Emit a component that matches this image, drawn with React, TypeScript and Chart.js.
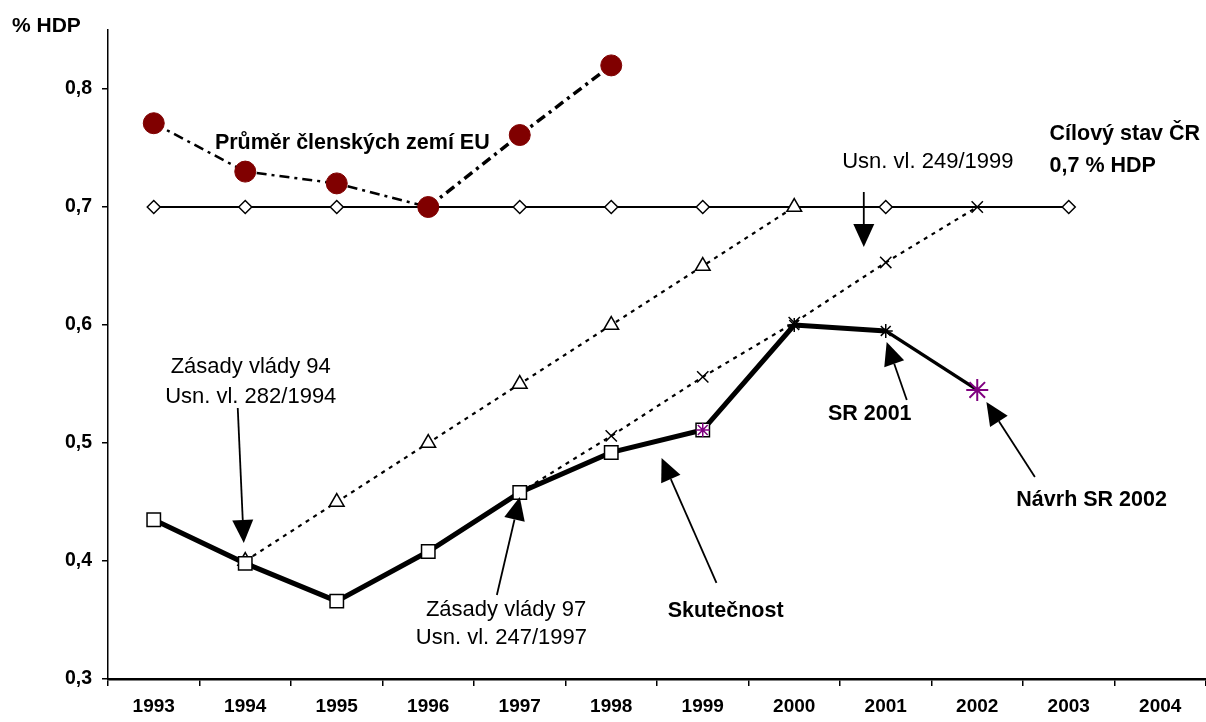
import React, { useEffect, useRef } from "react";
import { Chart, registerables } from "chart.js";

Chart.register(...registerables);

// ---- Data ----
const years = ["1993", "1994", "1995", "1996", "1997", "1998", "1999", "2000", "2001", "2002", "2003", "2004"];
const euAverage = [0.771, 0.73, 0.72, 0.7, 0.761, 0.82, null, null, null, null, null, null];
const targetCR = [0.7, 0.7, 0.7, 0.7, 0.7, 0.7, 0.7, 0.7, 0.7, 0.7, 0.7, null];
const plan94 = [null, 0.4, 0.45, 0.5, 0.55, 0.6, 0.65, 0.7, null, null, null, null];
const plan97 = [null, null, null, null, 0.458, 0.506, 0.556, 0.602, 0.653, 0.7, null, null];
const actual = [0.435, 0.398, 0.366, 0.408, 0.458, 0.492, 0.511, 0.6, null, null, null, null];
const budget2001 = [null, null, null, null, null, null, null, 0.6, 0.595, null, null, null];
const budget2002 = [null, null, null, null, null, null, null, null, 0.595, 0.545, null, null];
const purpleMark = [null, null, null, null, null, null, 0.511, null, null, null, null, null];

const yMin = 0.3;
const yMax = 0.85;
const yStep = 0.1;

// ---- Annotations (anchored in data units: category index, value) ----
const noteTexts = [
  { text: "Průměr členských zemí EU", at: [2.17, 0.754], bold: true, align: "center" },
  { text: "Cílový stav ČR", at: [9.79, 0.762], bold: true, align: "left" },
  { text: "0,7 % HDP", at: [9.79, 0.735], bold: true, align: "left" },
  { text: "Usn. vl. 249/1999", at: [8.46, 0.738], bold: false, align: "center" },
  { text: "Zásady vlády 94", at: [1.06, 0.5644], bold: false, align: "center" },
  { text: "Usn. vl. 282/1994", at: [1.06, 0.539], bold: false, align: "center" },
  { text: "Zásady vlády 97", at: [3.85, 0.3585], bold: false, align: "center" },
  { text: "Usn. vl. 247/1997", at: [3.8, 0.3347], bold: false, align: "center" },
  { text: "Skutečnost", at: [6.25, 0.3576], bold: true, align: "center" },
  { text: "SR 2001", at: [7.825, 0.5246], bold: true, align: "center" },
  { text: "Návrh SR 2002", at: [10.25, 0.4517], bold: true, align: "center" },
];

const noteArrows = [
  { from: [7.76, 0.7127], to: [7.76, 0.666] },
  { from: [0.918, 0.5297], to: [0.984, 0.4153] },
  { from: [3.75, 0.3712], to: [4.0, 0.4542] },
  { from: [6.15, 0.3814], to: [5.55, 0.4873] },
  { from: [8.23, 0.5364], to: [8.01, 0.5856] },
  { from: [9.63, 0.4712], to: [9.1, 0.5347] },
];

const axisTitle = "% HDP";

const FONT = "'Liberation Sans', Arial, sans-serif";

const annotationPlugin = {
  id: "annotations",
  afterDatasetsDraw(chart: any) {
    const { ctx, scales, chartArea } = chart;
    const xs = scales.x;
    const ys = scales.y;
    const px = (p: number[]) => [xs.getPixelForValue(p[0]), ys.getPixelForValue(p[1])];
    ctx.save();
    ctx.fillStyle = "#000";
    ctx.textBaseline = "middle";
    for (const n of noteTexts) {
      const [x, y] = px(n.at);
      ctx.font = (n.bold ? "bold 21.5px " : "22px ") + FONT;
      ctx.textAlign = n.align as CanvasTextAlign;
      ctx.fillText(n.text, x, y);
    }
    ctx.strokeStyle = "#000";
    ctx.lineWidth = 1.8;
    for (const a of noteArrows) {
      const [x1, y1] = px(a.from);
      const [x2, y2] = px(a.to);
      const ang = Math.atan2(y2 - y1, x2 - x1);
      const headLen = 23;
      const headHalf = 10.5;
      const bx = x2 - headLen * Math.cos(ang);
      const by = y2 - headLen * Math.sin(ang);
      ctx.beginPath();
      ctx.moveTo(x1, y1);
      ctx.lineTo(bx, by);
      ctx.stroke();
      ctx.beginPath();
      ctx.moveTo(x2, y2);
      ctx.lineTo(bx + headHalf * Math.sin(ang), by - headHalf * Math.cos(ang));
      ctx.lineTo(bx - headHalf * Math.sin(ang), by + headHalf * Math.cos(ang));
      ctx.closePath();
      ctx.fill();
    }
    // axis title
    ctx.beginPath();
    ctx.rect(0, 0, chartArea.left - 28, chartArea.top + 20);
    ctx.clip();
    ctx.font = "bold 21px " + FONT;
    ctx.textAlign = "left";
    ctx.fillText(axisTitle, chartArea.left - 96, chartArea.top - 4);
    ctx.restore();
  },
};

export default function App() {
  const ref = useRef<HTMLCanvasElement>(null);

  useEffect(() => {
    const canvas = ref.current;
    if (!canvas) return;
    const chart = new Chart(canvas, {
      type: "line",
      data: {
        labels: years,
        datasets: [
          {
            label: "purple",
            data: purpleMark,
            showLine: false,
            pointStyle: "star",
            pointRadius: 7,
            borderColor: "#800080",
            backgroundColor: "#800080",
            pointBorderWidth: 1.5,
            order: 0,
          },
          {
            label: "Průměr EU",
            data: euAverage,
            borderColor: "#000",
            borderWidth: 2.5,
            borderDash: [10, 5, 3, 5],
            segment: { borderWidth: (c: any) => (c.p0DataIndex >= 3 ? 3.5 : 2.5) },
            pointStyle: "circle",
            pointRadius: 10.5,
            pointBackgroundColor: "#800000",
            pointBorderColor: "#800000",
            pointBorderWidth: 1,
            order: 1,
          },
          {
            label: "Skutečnost",
            data: actual,
            borderColor: "#000",
            borderWidth: 5,
            pointStyle: "rect",
            pointRadius: [9.5, 9.5, 9.5, 9.5, 9.5, 9.5, 9.5, 0, 0, 0, 0, 0],
            pointBackgroundColor: "#fff",
            pointBorderColor: "#000",
            pointBorderWidth: 1.5,
            order: 3,
          },
          {
            label: "SR 2001",
            data: budget2001,
            borderColor: "#000",
            borderWidth: 5,
            pointStyle: "star",
            pointRadius: 7,
            pointBackgroundColor: "#000",
            pointBorderColor: "#000",
            pointBorderWidth: 1.5,
            order: 2,
          },
          {
            label: "Návrh SR 2002",
            data: budget2002,
            borderColor: "#000",
            borderWidth: 3.5,
            pointStyle: "star",
            pointRadius: [0, 0, 0, 0, 0, 0, 0, 0, 0, 11, 0, 0],
            pointBackgroundColor: "#800080",
            pointBorderColor: "#800080",
            pointBorderWidth: 2,
            order: 2.5,
          },
          {
            label: "Zásady 97",
            data: plan97,
            borderColor: "#000",
            borderWidth: 2.2,
            borderDash: [4, 5],
            pointStyle: "crossRot",
            pointRadius: 8,
            pointBorderColor: "#000",
            pointBorderWidth: 1.5,
            order: 4,
          },
          {
            label: "Zásady 94",
            data: plan94,
            borderColor: "#000",
            borderWidth: 2.2,
            borderDash: [4, 5],
            pointStyle: "triangle",
            pointRadius: 8.5,
            pointBackgroundColor: "#fff",
            pointBorderColor: "#000",
            pointBorderWidth: 1.5,
            order: 5,
          },
          {
            label: "Cílový stav",
            data: targetCR,
            borderColor: "#000",
            borderWidth: 1.8,
            pointStyle: "rectRot",
            pointRadius: [6.5, 6.5, 6.5, 6.5, 6.5, 6.5, 6.5, 0, 6.5, 0, 6.5, 0],
            pointBackgroundColor: "#fff",
            pointBorderColor: "#000",
            pointBorderWidth: 1.5,
            order: 6,
          },
        ],
      },
      options: {
        responsive: false,
        animation: false,
        spanGaps: false,
        layout: { autoPadding: false, padding: { top: 30, left: 0, right: 0, bottom: 0 } },
        plugins: {
          legend: { display: false },
          tooltip: { enabled: false },
        },
        elements: { line: { tension: 0 } },
        scales: {
          x: {
            type: "category",
            offset: true,
            grid: {
              display: true,
              drawOnChartArea: false,
              drawTicks: true,
              tickLength: 7,
              offset: true,
              color: "#000",
              lineWidth: 1.5,
            },
            border: { display: true, color: "#000", width: 2.5 },
            ticks: {
              color: "#000",
              font: { family: FONT, size: 19, weight: "bold" },
              padding: 9,
              maxRotation: 0,
              autoSkip: false,
            },
            afterFit: (s: any) => {
              s.height = 43;
              s.paddingLeft = 0;
              s.paddingRight = 0;
            },
          },
          y: {
            min: yMin,
            max: yMax,
            grid: {
              display: true,
              drawOnChartArea: false,
              drawTicks: true,
              tickLength: 6,
              color: "#000",
              lineWidth: 1.5,
            },
            border: { display: true, color: "#000", width: 1.5 },
            ticks: {
              stepSize: yStep,
              includeBounds: false,
              color: "#000",
              font: { family: FONT, size: 19.5, weight: "bold" },
              padding: 10,
              callback: (v: any) => Number(v).toFixed(1).replace(".", ","),
            },
            afterFit: (s: any) => {
              s.width = 108;
            },
          },
        },
      },
      plugins: [annotationPlugin],
    } as any);
    return () => chart.destroy();
  }, []);

  return (
    <div style={{ position: "absolute", left: 0, top: 0, width: 1206, height: 722, background: "#fff" }}>
      <canvas ref={ref} width={1206} height={722} style={{ display: "block" }} />
    </div>
  );
}
